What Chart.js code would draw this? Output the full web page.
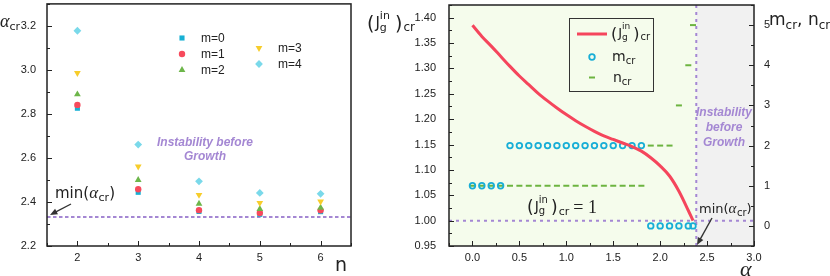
<!DOCTYPE html>
<html>
<head>
<meta charset="utf-8">
<script src="https://cdn.jsdelivr.net/npm/chart.js@4.4.0/dist/chart.umd.min.js"></script>
<style>
body { margin: 0; background: #fff; width: 830px; height: 276px; overflow: hidden; position: relative; }
#left { position: absolute; left: 0; top: 0; }
#right { position: absolute; left: 360px; top: 0; }
</style>
</head>
<body>
<canvas id="left" width="360" height="276"></canvas>
<canvas id="right" width="470" height="276"></canvas>
<script>
// ---- left panel: alpha_cr against n, one series per m ----
const nValues = [2, 3, 4, 5, 6];
const acrM0 = [2.826, 2.444, 2.357, 2.344, 2.356];
const acrM1 = [2.841, 2.458, 2.363, 2.350, 2.362];
const acrM2 = [2.889, 2.500, 2.392, 2.368, 2.374];
const acrM3 = [2.986, 2.561, 2.432, 2.396, 2.402];
const acrM4 = [3.178, 2.661, 2.494, 2.441, 2.437];
const mNames = ['m=0', 'm=1', 'm=2', 'm=3', 'm=4'];
const minAlphaCr = 2.332;
const nTicks = [2, 3, 4, 5, 6];
const acrTicks = [2.2, 2.4, 2.6, 2.8, 3.0, 3.2];

// ---- right panel: critical J, m and n against alpha ----
const alphaVals = [0, 0.1, 0.2, 0.3, 0.4, 0.5, 0.6, 0.7, 0.8, 0.9, 1.0, 1.1, 1.2,
                   1.3, 1.4, 1.5, 1.6, 1.7, 1.8, 1.9, 2.0, 2.1, 2.2, 2.3, 2.35];
const jgCr = [1.385, 1.363, 1.344, 1.324, 1.304, 1.285, 1.268, 1.251, 1.236, 1.222,
              1.209, 1.197, 1.186, 1.176, 1.167, 1.160, 1.153, 1.146, 1.137, 1.124,
              1.108, 1.088, 1.058, 1.020, 1.000];
const mCr = [1, 1, 1, 1, 2, 2, 2, 2, 2, 2, 2, 2, 2, 2, 2, 2, 2, 2, 2, 0, 0, 0, 0, 0, 0];
const nCr = [1, 1, 1, 1, 1, 1, 1, 1, 1, 1, 1, 1, 1, 1, 1, 1, 1, 1, 1, 2, 2, 2, 3, 4, 5];
const alphaBoundary = 2.385;
const jgOne = 1.0;
const alphaTicks = [0, 0.5, 1.0, 1.5, 2.0, 2.5, 3.0];
const jgTicks = [0.95, 1.00, 1.05, 1.10, 1.15, 1.20, 1.25, 1.30, 1.35, 1.40];
const mnTicks = [0, 1, 2, 3, 4, 5];

const TICKFONT = { family: 'Liberation Sans, Arial, sans-serif', size: 11 };
const SANS = 'DejaVu Sans, sans-serif';
const SERIF = 'Liberation Serif, serif';
const PURPLE = '#a487d3';
const mColors = ['#17b0d4', '#f74a5c', '#6db64a', '#f7cd2b', '#7ad9ea'];
const mStyles = ['rect', 'circle', 'triangle', 'triangle', 'rectRot'];
const mRot = [0, 0, 0, 180, 0];
const mRad = [3.6, 3.2, 3.9, 3.9, 3.9];

function rich(ctx, x, y, parts) {
  parts.forEach(p => {
    ctx.font = p.f;
    ctx.fillStyle = p.c || '#222';
    ctx.fillText(p.t, x, y + (p.dy || 0));
    if (!p.stay) x += ctx.measureText(p.t).width + (p.gap || 0);
  });
  return x;
}

function arrow(ctx, x1, y1, x2, y2) {
  const a = Math.atan2(y2 - y1, x2 - x1);
  ctx.save();
  ctx.strokeStyle = '#333'; ctx.fillStyle = '#333'; ctx.lineWidth = 1.4;
  ctx.beginPath(); ctx.moveTo(x1, y1);
  ctx.lineTo(x2 - 5 * Math.cos(a), y2 - 5 * Math.sin(a)); ctx.stroke();
  ctx.beginPath();
  ctx.moveTo(x2, y2);
  ctx.lineTo(x2 - 8 * Math.cos(a - 0.4), y2 - 8 * Math.sin(a - 0.4));
  ctx.lineTo(x2 - 8 * Math.cos(a + 0.4), y2 - 8 * Math.sin(a + 0.4));
  ctx.closePath(); ctx.fill();
  ctx.restore();
}

// ticks point inward
function ticks(ctx, scale, area, side, major, minor) {
  ctx.save();
  ctx.strokeStyle = '#222'; ctx.lineWidth = 1;
  const one = (v, len) => {
    const p = Math.round(scale.getPixelForValue(v)) + 0.5;
    ctx.beginPath();
    if (side === 'bottom') { ctx.moveTo(p, area.bottom); ctx.lineTo(p, area.bottom - len); }
    if (side === 'left') { ctx.moveTo(area.left, p); ctx.lineTo(area.left + len, p); }
    if (side === 'right') { ctx.moveTo(area.right, p); ctx.lineTo(area.right - len, p); }
    ctx.stroke();
  };
  major.forEach(v => one(v, 5));
  minor.forEach(v => one(v, 3));
  ctx.restore();
}

function frame(ctx, a) {
  ctx.save();
  ctx.strokeStyle = '#222'; ctx.lineWidth = 1.5;
  ctx.strokeRect(a.left, a.top, a.right - a.left, a.bottom - a.top);
  ctx.restore();
}

function marker(ctx, style, x, y, r, rot, color) {
  ctx.save();
  ctx.fillStyle = color;
  ctx.translate(x, y); ctx.rotate(rot * Math.PI / 180);
  ctx.beginPath();
  if (style === 'rect') { const s = r * Math.SQRT1_2; ctx.rect(-s, -s, 2 * s, 2 * s); }
  else if (style === 'circle') ctx.arc(0, 0, r, 0, Math.PI * 2);
  else if (style === 'triangle') {
    ctx.moveTo(0, -r); ctx.lineTo(r * 0.866, r * 0.5); ctx.lineTo(-r * 0.866, r * 0.5); ctx.closePath();
  } else { ctx.moveTo(0, -r); ctx.lineTo(r, 0); ctx.lineTo(0, r); ctx.lineTo(-r, 0); ctx.closePath(); }
  ctx.fill();
  ctx.restore();
}

// fixed axis sizes, no extra label padding
function fixSize(prop, px) {
  return s => {
    s[prop] = px;
    s.paddingTop = 0; s.paddingBottom = 0; s.paddingLeft = 0; s.paddingRight = 0;
  };
}

const acrSeries = [acrM0, acrM1, acrM2, acrM3, acrM4];

const leftDecor = {
  id: 'leftDecor',
  beforeDatasetsDraw(chart) {
    const { ctx, chartArea: a, scales: { y } } = chart;
    const py = y.getPixelForValue(minAlphaCr);
    ctx.save();
    ctx.strokeStyle = PURPLE; ctx.lineWidth = 2; ctx.setLineDash([3.5, 2.5]);
    ctx.beginPath(); ctx.moveTo(a.left, py); ctx.lineTo(a.right, py); ctx.stroke();
    ctx.restore();
  },
  afterDraw(chart) {
    const { ctx, chartArea: a, scales: { x, y } } = chart;
    frame(ctx, a);
    ticks(ctx, x, a, 'bottom', nTicks, [1.5, 2.5, 3.5, 4.5, 5.5, 6.5]);
    ticks(ctx, y, a, 'left', acrTicks, [2.3, 2.5, 2.7, 2.9, 3.1, 3.3]);
    // axis titles
    ctx.textAlign = 'left'; ctx.textBaseline = 'alphabetic';
    rich(ctx, 0, 27, [
      { t: 'α', f: 'italic 18px ' + SERIF },
      { t: 'cr', f: '11px ' + SANS, dy: 3 }
    ]);
    rich(ctx, 335, 271, [{ t: 'n', f: '19px ' + SANS }]);
    // legend in two columns
    const pos = [[182, 38], [182, 54], [182, 70], [259, 48], [259, 64]];
    mNames.forEach((name, i) => {
      const [mx, my] = pos[i];
      marker(ctx, mStyles[i], mx, my, mRad[i], mRot[i], mColors[i]);
      ctx.font = '12px ' + TICKFONT.family; ctx.fillStyle = '#222';
      ctx.textBaseline = 'middle';
      ctx.fillText(name, mx + 19, my + 0.5);
    });
    ctx.textBaseline = 'alphabetic';
    // annotation
    ctx.font = 'italic bold 12px ' + TICKFONT.family; ctx.fillStyle = PURPLE;
    ctx.textAlign = 'center';
    ctx.fillText('Instability before', 205, 146);
    ctx.fillText('Growth', 205, 160);
    ctx.textAlign = 'left';
    rich(ctx, 55, 198, [
      { t: 'min(', f: '15px ' + SANS },
      { t: 'α', f: 'italic 17px ' + SERIF, gap: 0.5 },
      { t: 'cr', f: '11px ' + SANS, dy: 3 },
      { t: ')', f: '15px ' + SANS }
    ]);
    arrow(ctx, 71, 204, 50, 215);
  }
};

new Chart(document.getElementById('left'), {
  type: 'scatter',
  data: {
    datasets: acrSeries.map((vals, i) => ({
      label: mNames[i],
      data: nValues.map((n, j) => ({ x: n, y: vals[j] })),
      pointStyle: mStyles[i],
      pointRotation: mRot[i],
      pointRadius: mRad[i],
      pointHoverRadius: mRad[i],
      backgroundColor: mColors[i],
      borderColor: mColors[i],
      pointBorderWidth: 0,
      order: 4 - i
    }))
  },
  options: {
    responsive: false,
    devicePixelRatio: 1,
    animation: false,
    layout: { padding: { left: 0, right: 9, top: 2, bottom: 0 } },
    plugins: { legend: { display: false }, tooltip: { enabled: false } },
    scales: {
      x: {
        type: 'linear', min: 1.5, max: 6.5,
        afterFit: fixSize('height', 30),
        afterBuildTicks: s => { s.ticks = nTicks.map(v => ({ value: v })); },
        grid: { display: false }, border: { display: false },
        ticks: { font: TICKFONT, color: '#222', padding: -3, callback: v => String(v) }
      },
      y: {
        type: 'linear', min: 2.2, max: 3.3,
        afterFit: fixSize('width', 47),
        afterBuildTicks: s => { s.ticks = acrTicks.map(v => ({ value: v })); },
        grid: { display: false }, border: { display: false },
        ticks: { font: TICKFONT, color: '#222', padding: 3, callback: v => v.toFixed(1) }
      }
    }
  },
  plugins: [leftDecor]
});

const rightDecor = {
  id: 'rightDecor',
  beforeDraw(chart) {
    const { ctx, chartArea: a, scales: { x } } = chart;
    const xb = x.getPixelForValue(alphaBoundary);
    ctx.save();
    ctx.fillStyle = '#f5fcec'; ctx.fillRect(a.left, a.top, xb - a.left, a.bottom - a.top);
    ctx.fillStyle = '#f1f1f1'; ctx.fillRect(xb, a.top, a.right - xb, a.bottom - a.top);
    ctx.restore();
  },
  beforeDatasetsDraw(chart) {
    const { ctx, chartArea: a, scales: { x, y } } = chart;
    const xb = x.getPixelForValue(alphaBoundary);
    const y1 = y.getPixelForValue(jgOne);
    ctx.save();
    ctx.strokeStyle = PURPLE; ctx.lineWidth = 2; ctx.setLineDash([3, 4]);
    ctx.beginPath(); ctx.moveTo(a.left, y1); ctx.lineTo(a.right, y1); ctx.stroke();
    ctx.beginPath(); ctx.moveTo(xb, a.top); ctx.lineTo(xb, a.bottom); ctx.stroke();
    ctx.restore();
    ctx.font = 'italic bold 12px ' + TICKFONT.family; ctx.fillStyle = PURPLE;
    ctx.textAlign = 'center';
    ctx.fillText('Instability', 364, 116);
    ctx.fillText('before', 364, 131);
    ctx.fillText('Growth', 364, 146);
    ctx.textAlign = 'left';
  },
  afterDraw(chart) {
    const { ctx, chartArea: a, scales: { x, y, y2 } } = chart;
    frame(ctx, a);
    ticks(ctx, x, a, 'bottom', alphaTicks, [-0.25, 0.25, 0.75, 1.25, 1.75, 2.25, 2.75]);
    ticks(ctx, y, a, 'left', jgTicks, [0.975, 1.025, 1.075, 1.125, 1.175, 1.225, 1.275, 1.325, 1.375, 1.425]);
    ticks(ctx, y2, a, 'right', mnTicks, [-0.5, 0.5, 1.5, 2.5, 3.5, 4.5, 5.5]);
    ctx.textAlign = 'left'; ctx.textBaseline = 'alphabetic';
    // left title (J_g^in)_cr
    let px = rich(ctx, 7, 30, [
      { t: '(', f: '19px ' + SANS, gap: 1 },
      { t: 'J', f: '15px ' + SANS, dy: -2 },
      { t: 'in', f: '11px ' + SANS, dy: -11, stay: true },
      { t: 'g', f: '11px ' + SANS, dy: 1 }
    ]);
    ctx.font = '11px ' + SANS;
    px = Math.max(px, 15 + 9 + ctx.measureText('in').width) + 1;
    rich(ctx, px, 30, [
      { t: ')', f: '19px ' + SANS, gap: 1 },
      { t: 'cr', f: '12px ' + SANS, dy: 1 }
    ]);
    // right title m_cr, n_cr
    rich(ctx, 409, 25, [
      { t: 'm', f: '17px ' + SANS },
      { t: 'cr', f: '12px ' + SANS, dy: 4 },
      { t: ', ', f: '17px ' + SANS },
      { t: 'n', f: '17px ' + SANS },
      { t: 'cr', f: '12px ' + SANS, dy: 4 }
    ]);
    rich(ctx, 380, 276, [{ t: 'α', f: 'italic 22px ' + SERIF }]);
    // (J_g^in)_cr = 1
    px = rich(ctx, 167, 213, [
      { t: '(', f: '17px ' + SANS, gap: 1 },
      { t: 'J', f: '14px ' + SANS, dy: -2 },
      { t: 'in', f: '10px ' + SANS, dy: -10, stay: true },
      { t: 'g', f: '10px ' + SANS, dy: 1 }
    ]);
    ctx.font = '10px ' + SANS;
    px = Math.max(px, 167 + 6 + 8 + ctx.measureText('in').width) + 1;
    rich(ctx, px, 213, [
      { t: ')', f: '17px ' + SANS, gap: 1 },
      { t: 'cr', f: '11px ' + SANS, dy: 2, gap: 4 },
      { t: '= 1', f: '18px ' + SERIF }
    ]);
    // min(alpha_cr)
    rich(ctx, 339, 213, [
      { t: 'min(', f: '13px ' + SANS },
      { t: 'α', f: 'italic 15px ' + SERIF, gap: 0.5 },
      { t: 'cr', f: '10px ' + SANS, dy: 3 },
      { t: ')', f: '13px ' + SANS }
    ]);
    arrow(ctx, 352, 218, 337, 245);
    // legend box
    ctx.save();
    ctx.strokeStyle = '#333'; ctx.lineWidth = 1;
    ctx.strokeRect(209.5, 18.5, 84, 73);
    ctx.strokeStyle = '#f5455c'; ctx.lineWidth = 3;
    ctx.beginPath(); ctx.moveTo(217, 34); ctx.lineTo(247, 34); ctx.stroke();
    ctx.strokeStyle = '#18aed6'; ctx.lineWidth = 1.8;
    ctx.beginPath(); ctx.arc(232, 57, 2.8, 0, Math.PI * 2); ctx.stroke();
    ctx.strokeStyle = '#6cb440'; ctx.lineWidth = 2;
    ctx.beginPath(); ctx.moveTo(229, 77.5); ctx.lineTo(235, 77.5); ctx.stroke();
    ctx.restore();
    px = rich(ctx, 251, 39, [
      { t: '(', f: '16px ' + SANS, gap: 1 },
      { t: 'J', f: '13px ' + SANS, dy: -2 },
      { t: 'in', f: '9px ' + SANS, dy: -10, stay: true },
      { t: 'g', f: '9px ' + SANS, dy: 1 }
    ]);
    ctx.font = '9px ' + SANS;
    px = Math.max(px, 251 + 6 + 7 + ctx.measureText('in').width) + 1;
    rich(ctx, px, 39, [
      { t: ')', f: '16px ' + SANS, gap: 1 },
      { t: 'cr', f: '10px ' + SANS, dy: 1 }
    ]);
    rich(ctx, 252, 61, [
      { t: 'm', f: '14px ' + SANS },
      { t: 'cr', f: '10px ' + SANS, dy: 3 }
    ]);
    rich(ctx, 253, 82, [
      { t: 'n', f: '14px ' + SANS },
      { t: 'cr', f: '10px ' + SANS, dy: 3 }
    ]);
  }
};

new Chart(document.getElementById('right'), {
  type: 'line',
  data: {
    datasets: [
      {
        label: 'Jg_cr',
        data: alphaVals.map((a, i) => ({ x: a, y: jgCr[i] })),
        yAxisID: 'y',
        borderColor: '#f5455c', borderWidth: 3,
        pointRadius: 0, cubicInterpolationMode: 'monotone',
        order: 0
      },
      {
        label: 'm_cr',
        data: alphaVals.map((a, i) => ({ x: a, y: mCr[i] })),
        yAxisID: 'y2', showLine: false,
        pointStyle: 'circle', pointRadius: 2.8, pointHoverRadius: 2.8,
        pointBorderWidth: 1.8, pointBorderColor: '#18aed6',
        pointBackgroundColor: 'rgba(0,0,0,0)', borderColor: '#18aed6',
        order: 1
      },
      {
        label: 'n_cr',
        data: alphaVals.map((a, i) => ({ x: a, y: nCr[i] })),
        yAxisID: 'y2', showLine: false,
        pointStyle: 'line', pointRadius: 3, pointHoverRadius: 3,
        pointBorderWidth: 2, pointBorderColor: '#6cb440', borderColor: '#6cb440',
        order: 2
      }
    ]
  },
  options: {
    responsive: false,
    devicePixelRatio: 1,
    animation: false,
    layout: { padding: { left: 0, right: 0, top: 2, bottom: 0 } },
    plugins: { legend: { display: false }, tooltip: { enabled: false } },
    scales: {
      x: {
        type: 'linear', min: -0.25, max: 3.0,
        afterFit: fixSize('height', 30),
        afterBuildTicks: s => { s.ticks = alphaTicks.map(v => ({ value: v })); },
        grid: { display: false }, border: { display: false },
        ticks: { font: TICKFONT, color: '#222', padding: -3, callback: v => v.toFixed(1) }
      },
      y: {
        type: 'linear', position: 'left', min: 0.95, max: 1.425,
        afterFit: fixSize('width', 89),
        afterBuildTicks: s => { s.ticks = jgTicks.map(v => ({ value: v })); },
        grid: { display: false }, border: { display: false },
        ticks: { font: TICKFONT, color: '#222', padding: 5, callback: v => v.toFixed(2) }
      },
      y2: {
        type: 'linear', position: 'right', min: -0.5, max: 5.5,
        afterFit: fixSize('width', 76),
        afterBuildTicks: s => { s.ticks = mnTicks.map(v => ({ value: v })); },
        grid: { display: false }, border: { display: false },
        ticks: { font: TICKFONT, color: '#222', padding: 2, callback: v => String(v) }
      }
    }
  },
  plugins: [rightDecor]
});
</script>
</body>
</html>
